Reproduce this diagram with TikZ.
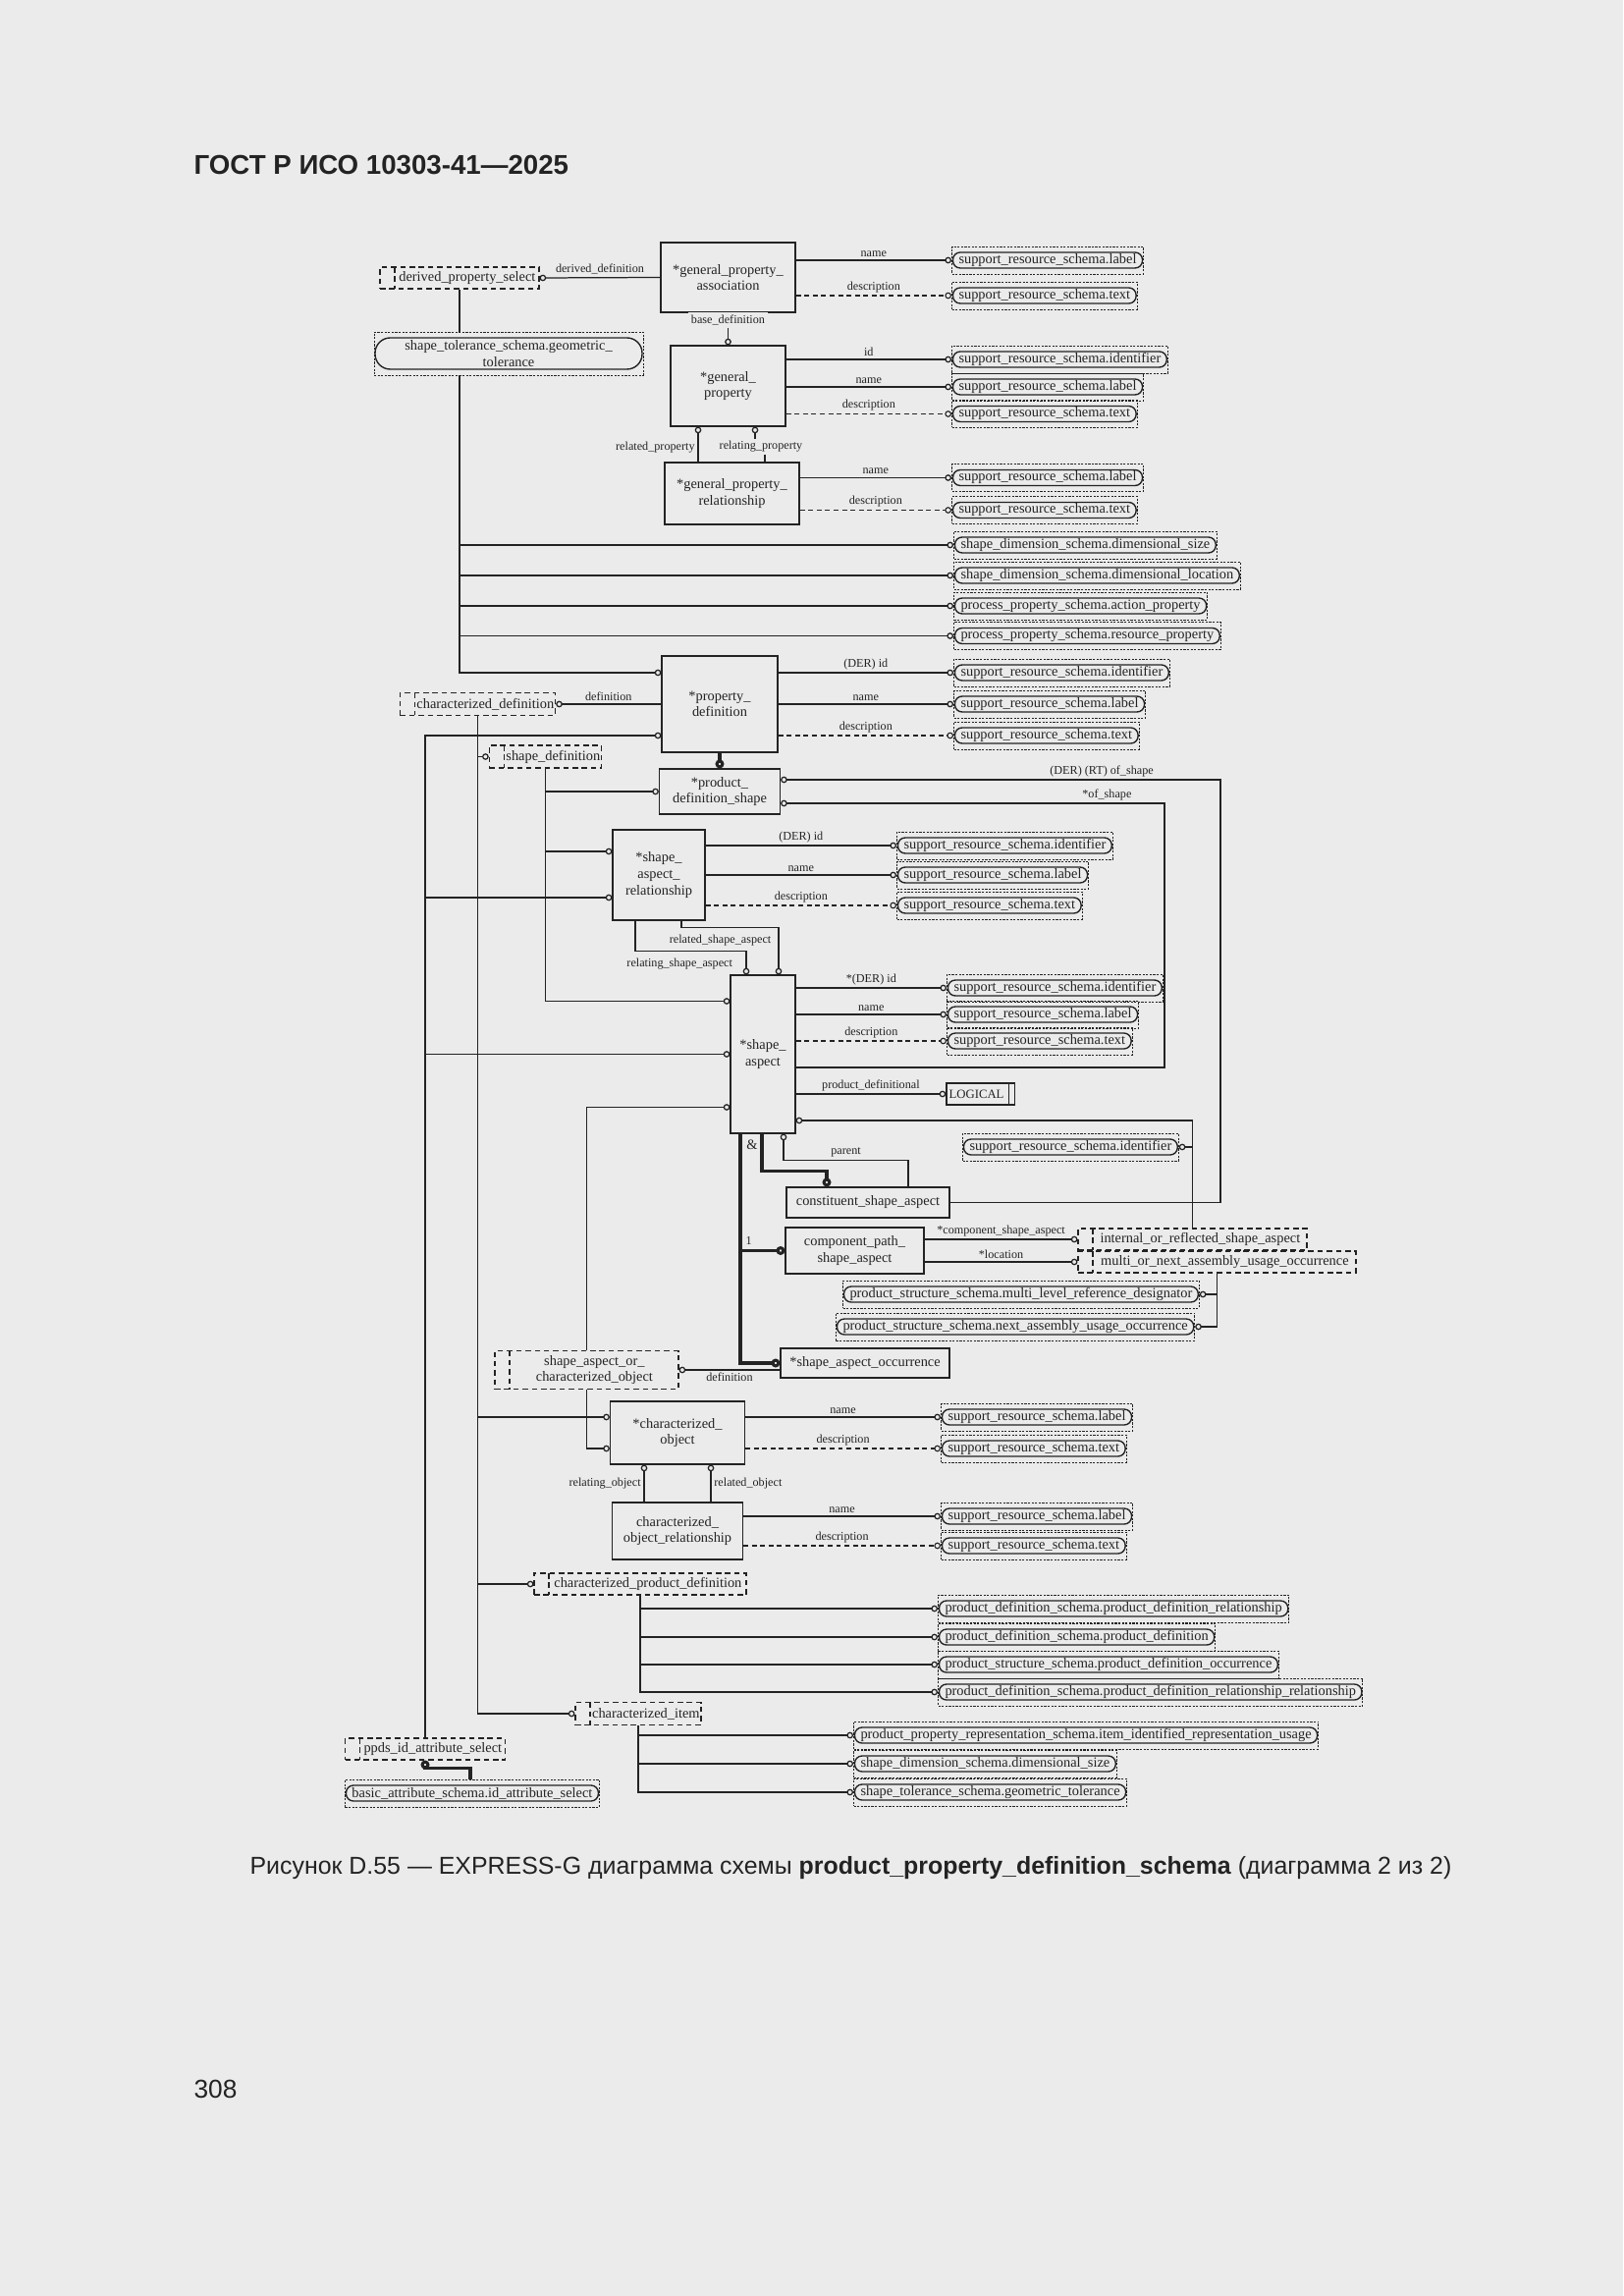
\documentclass[tikz,border=0pt]{standalone}
\usepackage{fontspec}
\setmainfont{Liberation Serif}
\newfontfamily\hdrfont{Liberation Sans}
\usepackage{tikz}
\usetikzlibrary{arrows.meta}
\definecolor{pagebg}{RGB}{235,235,235}
\definecolor{ink}{RGB}{35,35,35}
\newcommand{\pxu}{0.127mm}

\begin{document}
\begin{tikzpicture}[x=0.127mm, y=-0.127mm, line width=0.45pt, color=ink]
    \tikzstyle{ent} = [draw, rectangle, inner sep=1pt, align=center, font=\fontsize{5.2}{6}\selectfont]
    \tikzstyle{sel} = [draw, line width=0.4pt, dash pattern=on 2pt off 1.4pt, inner sep=0.5pt, align=center, font=\fontsize{5.2}{6}\selectfont, path picture={\draw[dash pattern=on 2pt off 1.4pt] ([xshift=15*\pxu]path picture bounding box.north west) -- ([xshift=15*\pxu]path picture bounding box.south west);}]
    \tikzstyle{refbox} = [draw, line width=0.35pt, dash pattern=on 0.8pt off 0.5pt, inner ysep=0pt, inner xsep=7*\pxu, font=\fontsize{5.2}{6}\selectfont]
    \tikzstyle{ref} = [refbox, anchor=west, minimum height=28*\pxu, path picture={\draw[solid, line width=0.5pt, rounded corners=7.5*\pxu] ([shift={(1*\pxu,-6*\pxu)}]path picture bounding box.north west) rectangle ([shift={(-1*\pxu,6*\pxu)}]path picture bounding box.south east);}]
    \tikzstyle{lbl} = [inner sep=1pt, font=\fontsize{4.4}{5}\selectfont]
    \tikzstyle{attr} = [draw, -{Circle[open, length=2.4pt, width=2.4pt]}]
    \tikzstyle{opt} = [attr, line width=0.4pt, dash pattern=on 1.8pt off 1.3pt]
    \tikzstyle{sub} = [draw, line width=1.1pt, -{Circle[open, length=3.2pt, width=3.2pt]}]
    \tikzstyle{ln} = [draw]

    \fill[pagebg] (0,0) rectangle (1653,2338);
    \useasboundingbox (0,0) rectangle (1653,2338);

    % entities
    \node [ent, minimum width=137*\pxu, minimum height=71*\pxu] (gpassoc) at (741.5,282.5) {*general\_property\_\\association};
    \node [ent, minimum width=117*\pxu, minimum height=82*\pxu] (gprop) at (741.5,393) {*general\_\\property};
    \node [ent, minimum width=137*\pxu, minimum height=63*\pxu] (gprel) at (745.5,502.5) {*general\_property\_\\relationship};
    \node [ent, minimum width=118*\pxu, minimum height=98*\pxu] (propdef) at (733,717) {*property\_\\definition};
    \node [ent, minimum width=123*\pxu, minimum height=46*\pxu] (pdshape) at (733,806) {*product\_\\definition\_shape};
    \node [ent, minimum width=94*\pxu, minimum height=92*\pxu] (sarel) at (671,891) {*shape\_\\aspect\_\\relationship};
    \node [ent, minimum width=66*\pxu, minimum height=161*\pxu] (saspect) at (777,1073.5) {*shape\_\\aspect};
    \node [ent, minimum width=166*\pxu, minimum height=31*\pxu] (constsa) at (884,1224.5) {constituent\_shape\_aspect};
    \node [ent, minimum width=141*\pxu, minimum height=47*\pxu] (comppath) at (870.5,1273.5) {component\_path\_\\shape\_aspect};
    \node [ent, minimum width=172*\pxu, minimum height=30*\pxu] (saocc) at (881,1388) {*shape\_aspect\_occurrence};
    \node [ent, minimum width=137*\pxu, minimum height=64*\pxu] (charobj) at (690,1459) {*characterized\_\\object};
    \node [ent, minimum width=133*\pxu, minimum height=58*\pxu] (corel) at (690,1559) {characterized\_\\object\_relationship};
    \node [ent, minimum width=69*\pxu, minimum height=22*\pxu, font=\fontsize{4.6}{5}\selectfont, path picture={\draw ([xshift=-6*\pxu]path picture bounding box.north east) -- ([xshift=-6*\pxu]path picture bounding box.south east);}] (logical) at (998.5,1114) {LOGICAL\hspace*{1mm}};

    % select types
    \node [sel, minimum width=162*\pxu, minimum height=22*\pxu] (dpsel) at (468,283) {\hspace*{2mm}derived\_property\_select};
    \node [sel, minimum width=157*\pxu, minimum height=23*\pxu] (chardef) at (486.5,717) {\hspace*{2mm}characterized\_definition};
    \node [sel, minimum width=113*\pxu, minimum height=23*\pxu] (shapedef) at (555.5,770.5) {\hspace*{2mm}shape\_definition};
    \node [sel, minimum width=187*\pxu, minimum height=39*\pxu] (saorco) at (597.5,1395) {\hspace*{2mm}shape\_aspect\_or\_\\\hspace*{2mm}characterized\_object};
    \node [sel, minimum width=216*\pxu, minimum height=22*\pxu] (charpd) at (652,1613) {\hspace*{2mm}characterized\_product\_definition};
    \node [sel, minimum width=123*\pxu, minimum height=23*\pxu] (charitem) at (650,1745) {\hspace*{2mm}characterized\_item};
    \node [sel, minimum width=163*\pxu, minimum height=22*\pxu] (ppdsel) at (433,1781) {\hspace*{2mm}ppds\_id\_attribute\_select};
    \node [sel, minimum width=233*\pxu, minimum height=22*\pxu] (iorsa) at (1214.5,1262) {\hspace*{2mm}internal\_or\_reflected\_shape\_aspect};
    \node [sel, minimum width=283*\pxu, minimum height=22*\pxu] (monauo) at (1239.5,1285) {\hspace*{2mm}multi\_or\_next\_assembly\_usage\_occurrence};

    % references to other schemas
    \node [refbox, minimum width=274*\pxu, minimum height=44*\pxu, align=center, path picture={\draw[solid, line width=0.5pt, rounded corners=15.5*\pxu] ([shift={(1*\pxu,-6*\pxu)}]path picture bounding box.north west) rectangle ([shift={(-1*\pxu,6*\pxu)}]path picture bounding box.south east);}] (geotol) at (518,360) {shape\_tolerance\_schema.geometric\_\\tolerance};
    \node [ref] (gpalbl) at (969,265) {support\_resource\_schema.label};
    \node [ref] (gpatxt) at (969,301) {support\_resource\_schema.text};
    \node [ref] (gpid) at (969,366) {support\_resource\_schema.identifier};
    \node [ref] (gplbl) at (969,394) {support\_resource\_schema.label};
    \node [ref] (gptxt) at (969,421.5) {support\_resource\_schema.text};
    \node [ref] (gprlbl) at (969,486.5) {support\_resource\_schema.label};
    \node [ref] (gprtxt) at (969,519.5) {support\_resource\_schema.text};
    \node [ref] (dimsize) at (971,555) {shape\_dimension\_schema.dimensional\_size};
    \node [ref] (dimloc) at (971,586) {shape\_dimension\_schema.dimensional\_location};
    \node [ref] (actprop) at (971,617) {process\_property\_schema.action\_property};
    \node [ref] (resprop) at (971,647.5) {process\_property\_schema.resource\_property};
    \node [ref] (pdid) at (971,685) {support\_resource\_schema.identifier};
    \node [ref] (pdlbl) at (971,717) {support\_resource\_schema.label};
    \node [ref] (pdtxt) at (971,749) {support\_resource\_schema.text};
    \node [ref] (sarid) at (913,861) {support\_resource\_schema.identifier};
    \node [ref] (sarlbl) at (913,891) {support\_resource\_schema.label};
    \node [ref] (sartxt) at (913,922) {support\_resource\_schema.text};
    \node [ref] (said) at (964,1006) {support\_resource\_schema.identifier};
    \node [ref] (salbl) at (964,1033) {support\_resource\_schema.label};
    \node [ref] (satxt) at (964,1060) {support\_resource\_schema.text};
    \node [ref] (irid) at (980,1168) {support\_resource\_schema.identifier};
    \node [ref] (mlrd) at (858,1318) {product\_structure\_schema.multi\_level\_reference\_designator};
    \node [ref] (nauo) at (851,1351) {product\_structure\_schema.next\_assembly\_usage\_occurrence};
    \node [ref] (colbl) at (958,1443) {support\_resource\_schema.label};
    \node [ref] (cotxt) at (958,1475) {support\_resource\_schema.text};
    \node [ref] (corlbl) at (958,1544) {support\_resource\_schema.label};
    \node [ref] (cortxt) at (958,1574) {support\_resource\_schema.text};
    \node [ref] (pdr) at (955,1638) {product\_definition\_schema.product\_definition\_relationship};
    \node [ref] (pdef) at (955,1667) {product\_definition\_schema.product\_definition};
    \node [ref] (pdocc) at (955,1695) {product\_structure\_schema.product\_definition\_occurrence};
    \node [ref] (pdrr) at (955,1723) {product\_definition\_schema.product\_definition\_relationship\_relationship};
    \node [ref] (iiru) at (869,1767) {product\_property\_representation\_schema.item\_identified\_representation\_usage};
    \node [ref] (cidim) at (869,1796) {shape\_dimension\_schema.dimensional\_size};
    \node [ref] (citol) at (869,1825) {shape\_tolerance\_schema.geometric\_tolerance};
    \node [ref] (idattr) at (351,1826) {basic\_attribute\_schema.id\_attribute\_select};

    % helper points
    \coordinate (relp) at (711,0);
    \coordinate (relg) at (779,0);
    \coordinate (relgp) at (769,0);
    \coordinate (sarT) at ([yshift=24*\pxu]sarel.west);
    \coordinate (sarB) at ([yshift=-23*\pxu]sarel.west);
    \coordinate (saT) at ([yshift=54*\pxu]saspect.west);
    \coordinate (saB) at ([yshift=-54*\pxu]saspect.west);
    \coordinate (saC) at ([yshift=-67.5*\pxu]saspect.east);
    \coordinate (saOS) at ([yshift=-13.5*\pxu]saspect.east);
    \coordinate (sub1) at ([xshift=-23*\pxu]saspect.south);
    \coordinate (ofs) at (1186,818);
    \coordinate (dofs) at (1243,794);
    \coordinate (relo) at (656,0);
    \coordinate (relo2) at (724,0);

    % general_property_association
    \path [attr] (gpassoc.west) -- node[lbl, above]{derived\_definition} (dpsel.east);
    \path [attr] (gpassoc.east |- gpalbl.west) -- node[lbl, above]{name} (gpalbl.west);
    \path [opt] (gpassoc.east |- gpatxt.west) -- node[lbl, above]{description} (gpatxt.west);
    \path [attr] (gpassoc.south) -- (gprop.north);

    % general_property
    \path [attr] (gprop.east |- gpid.west) -- node[lbl, above]{id} (gpid.west);
    \path [attr] (gprop.east |- gplbl.west) -- node[lbl, above]{name} (gplbl.west);
    \path [opt] (gprop.east |- gptxt.west) -- node[lbl, above]{description} (gptxt.west);
    \path [attr] (relp |- gprel.north) -- node[lbl, left, pos=0.4]{related\_property} (relp |- gprop.south);
    \path [attr] (relg |- gprel.north) -- ++(0,-8) -| (relgp |- gprop.south);

    % general_property_relationship
    \path [attr] (gprel.east |- gprlbl.west) -- node[lbl, above]{name} (gprlbl.west);
    \path [opt] (gprel.east |- gprtxt.west) -- node[lbl, above]{description} (gprtxt.west);

    % derived_property_select
    \path [ln] (dpsel.south) -- (dpsel.south |- geotol.north);
    \path [attr] (dpsel.south |- geotol.south) |- (propdef.west |- pdid.west);
    \path [attr] (dpsel.south |- dimsize.west) -- (dimsize.west);
    \path [attr] (dpsel.south |- dimloc.west) -- (dimloc.west);
    \path [attr] (dpsel.south |- actprop.west) -- (actprop.west);
    \path [attr] (dpsel.south |- resprop.west) -- (resprop.west);

    % property_definition
    \path [attr] (propdef.east |- pdid.west) -- node[lbl, above]{(DER) id} (pdid.west);
    \path [attr] (propdef.east |- pdlbl.west) -- node[lbl, above]{name} (pdlbl.west);
    \path [opt] (propdef.east |- pdtxt.west) -- node[lbl, above]{description} (pdtxt.west);
    \path [attr] (propdef.west) -- node[lbl, above]{definition} (chardef.east);
    \path [sub] (propdef.south) -- (pdshape.north);

    % ppds_id_attribute_select
    \path [attr] (ppdsel.north) |- (propdef.west |- pdtxt.west);
    \path [attr] (ppdsel.north |- sarB) -- (sarB);
    \path [attr] (ppdsel.north |- saspect.west) -- (saspect.west);
    \path [sub] ([xshift=128*\pxu]idattr.north west) -- ++(0,-11) -| (ppdsel.south);

    % characterized_definition
    \path [attr] (chardef.south) |- (charitem.west);
    \path [attr] (chardef.south |- shapedef.west) -- (shapedef.west);
    \path [attr] (chardef.south |- colbl.west) -- (charobj.west |- colbl.west);
    \path [attr] (chardef.south |- charpd.west) -- (charpd.west);

    % shape_definition
    \path [attr] (shapedef.south) |- (saT);
    \path [attr] (shapedef.south |- pdshape.west) -- (pdshape.west);
    \path [attr] (shapedef.south |- sarT) -- (sarT);

    % shape_aspect_relationship
    \path [attr] (sarel.east |- sarid.west) -- node[lbl, above]{(DER) id} (sarid.west);
    \path [attr] (sarel.east |- sarlbl.west) -- node[lbl, above]{name} (sarlbl.west);
    \path [opt] (sarel.east |- sartxt.west) -- node[lbl, above]{description} (sartxt.west);
    \path [attr] ([xshift=23*\pxu]sarel.south) -- ++(0,7) -| node[lbl, below=1.5pt, pos=0.2]{related\_shape\_aspect} ([xshift=16*\pxu]saspect.north);
    \path [attr] ([xshift=-24*\pxu]sarel.south) -- ++(0,31) -| node[lbl, below=1.5pt, pos=0.2]{relating\_shape\_aspect} ([xshift=-17*\pxu]saspect.north);

    % shape_aspect
    \path [attr] (saspect.east |- said.west) -- node[lbl, above]{*(DER) id} (said.west);
    \path [attr] (saspect.east |- salbl.west) -- node[lbl, above]{name} (salbl.west);
    \path [opt] (saspect.east |- satxt.west) -- node[lbl, above]{description} (satxt.west);
    \path [attr] (saspect.east |- logical.west) -- node[lbl, above]{product\_definitional} (logical.west);
    \path [attr] (saOS) -| (ofs) -- node[lbl, above, pos=0.15]{*of\_shape} ([yshift=-12*\pxu]pdshape.east);
    \path [attr] (constsa.east) -| (dofs) -- node[lbl, above, pos=0.27]{(DER) (RT) of\_shape} ([yshift=12*\pxu]pdshape.east);
    \path [attr] (iorsa.north) |- (saC);
    \path [attr] (iorsa.north |- irid.east) -- (irid.east);

    % subtypes of shape_aspect
    \path [sub] (sub1) |- (saocc.west);
    \path [sub] (sub1 |- comppath.west) -- node[lbl, above right=0.5pt, pos=0]{1} (comppath.west);
    \path [sub] ([xshift=-1*\pxu]saspect.south) -- ++(0,38) -| ([xshift=-42*\pxu]constsa.north);
    \path [attr] ([xshift=41*\pxu]constsa.north) -- ++(0,-27) -| node[lbl, above, pos=0.25]{parent} ([xshift=21*\pxu]saspect.south);

    % component_path_shape_aspect
    \path [attr] (comppath.east |- iorsa.west) -- node[lbl, above]{*component\_shape\_aspect} (iorsa.west);
    \path [attr] (comppath.east |- monauo.west) -- node[lbl, above]{*location} (monauo.west);
    \path [attr] (monauo.south) |- (nauo.east);
    \path [attr] (monauo.south |- mlrd.east) -- (mlrd.east);

    % shape_aspect_or_characterized_object
    \path [attr] (saorco.north) |- (saB);
    \path [attr] (saorco.south) |- (charobj.west |- cotxt.west);
    \path [attr] (saocc.west |- saorco.east) -- node[lbl, below]{definition} (saorco.east);

    % characterized_object
    \path [attr] (charobj.east |- colbl.west) -- node[lbl, above]{name} (colbl.west);
    \path [opt] (charobj.east |- cotxt.west) -- node[lbl, above]{description} (cotxt.west);
    \path [attr] (relo |- corel.north) -- node[lbl, left]{relating\_object} (relo |- charobj.south);
    \path [attr] (relo2 |- corel.north) -- node[lbl, right]{related\_object} (relo2 |- charobj.south);
    \path [attr] (corel.east |- corlbl.west) -- node[lbl, above]{name} (corlbl.west);
    \path [opt] (corel.east |- cortxt.west) -- node[lbl, above]{description} (cortxt.west);

    % characterized_product_definition
    \path [attr] (charpd.south) |- (pdrr.west);
    \path [attr] (charpd.south |- pdr.west) -- (pdr.west);
    \path [attr] (charpd.south |- pdef.west) -- (pdef.west);
    \path [attr] (charpd.south |- pdocc.west) -- (pdocc.west);

    % characterized_item
    \path [attr] (charitem.south) |- (citol.west);
    \path [attr] (charitem.south |- iiru.west) -- (iiru.west);
    \path [attr] (charitem.south |- cidim.west) -- (cidim.west);

    % labels over lines
    \node [lbl, fill=pagebg] (basedef) at (741.5,326) {base\_definition};
    \node [lbl, fill=pagebg] (relgprop) at (775,455) {relating\_property};
    \node [font=\fontsize{5.2}{6}\selectfont, inner sep=0pt] (amp) at (766,1166) {\&};

    % page text
    \node [anchor=west, inner sep=0pt, font=\hdrfont\bfseries\fontsize{10}{12}\selectfont] (header) at (197,168) {ГОСТ Р ИСО 10303-41—2025};
    \node [font=\hdrfont\fontsize{9}{11}\selectfont] (caption) at (866.5,1902) {Рисунок D.55 — EXPRESS-G диаграмма схемы \textbf{product\_property\_definition\_schema} (диаграмма 2 из 2)};
    \node [anchor=west, inner sep=0pt, font=\hdrfont\fontsize{9.5}{11}\selectfont] (pageno) at (197,2127) {308};
\end{tikzpicture}
\end{document}
